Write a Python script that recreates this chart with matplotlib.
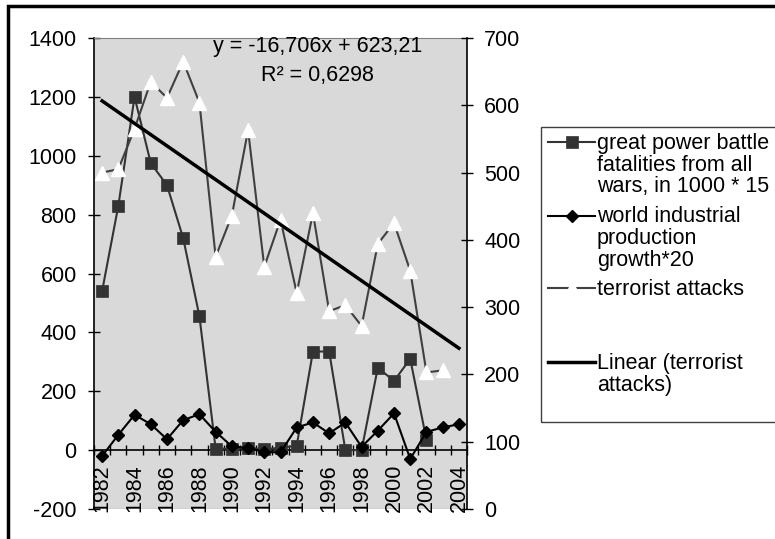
import matplotlib
matplotlib.use('Agg')
import matplotlib.pyplot as plt
import numpy as np
from matplotlib.lines import Line2D
from matplotlib.patches import Rectangle

plt.rcParams['font.family'] = ['Liberation Sans', 'DejaVu Sans']
plt.rcParams['font.size'] = 15.5
plt.rcParams['axes.unicode_minus'] = False

years = list(range(1982, 2005))
nan = np.nan

# great power battle fatalities from all wars, in 1000 * 15 (left axis)
fatalities = [540, 830, 1200, 975, 900, 720, 455, 5, 5, 8, 3, 8, 15,
              335, 335, 0, 0, 280, 235, 310, 35, nan, nan]
# world industrial production growth * 20 (left axis)
production = [-20, 52, 120, 88, 37, 102, 122, 62, 13, 7, -6, -8, 77,
              94, 57, 94, 11, 66, 125, -30, 62, 77, 88]
# terrorist attacks (right axis)
attacks = [500, 505, 565, 635, 611, 665, 604, 375, 436, 563, 360, 430, 321,
           440, 294, 303, 272, 394, 425, 354, 203, 206, nan]

trend_slope = -16.706
trend_icept = 623.21

legend_labels = ['great power battle\nfatalities from all\nwars, in 1000 * 15',
                 'world industrial\nproduction\ngrowth*20',
                 'terrorist attacks',
                 'Linear (terrorist\nattacks)']

W, H = 775, 539
def fx(px):
    return px / W
def fy(py):
    return 1 - py / H

x = np.arange(len(years))

fig = plt.figure(figsize=(W / 100, H / 100), dpi=100)
ax = fig.add_axes([fx(94), fy(509), (467 - 94) / W, (509 - 38) / H])
ax.set_facecolor('#d9d9d9')

sq_style = dict(color='#333333', lw=1.5, marker='s', ms=9, mfc='#333333',
                mec='#333333', mew=0.5)
di_style = dict(color='black', lw=1.5, marker='D', ms=6, mfc='black',
                mec='black')
tr_style = dict(color='#404040', lw=1.5, marker='^', ms=10, mfc='white',
                mec='white')
ln_style = dict(color='black', lw=2.5)

ax.plot(x, fatalities, zorder=3, **sq_style)
ax.plot(x, production, zorder=3, **di_style)

ax.set_xlim(-0.5, len(years) - 0.5)
ax.set_ylim(-200, 1400)
ax.set_yticks(range(-200, 1401, 200))
ax.tick_params(axis='y', direction='inout', length=9, width=1, pad=8)

ax.spines['bottom'].set_position(('data', 0))
ax.spines['bottom'].set_linewidth(1.2)
ax.spines['left'].set_linewidth(1.2)
ax.spines['top'].set_color('#808080')
ax.spines['right'].set_visible(False)
ax.axhline(-200, color='#b0b0b0', lw=1, zorder=1)

ax.set_xticks(x[::2])
ax.set_xticklabels([str(y) for y in years[::2]], rotation=90, va='top')
ax.set_xticks(np.arange(-0.5, len(years)), minor=True)
ax.tick_params(axis='x', which='major', length=0, pad=10)
ax.tick_params(axis='x', which='minor', direction='inout', length=7, width=1)

ax2 = ax.twinx()
ax2.plot(x, attacks, zorder=3, **tr_style)
trend_x = np.arange(1, len(years) + 1)
ax2.plot(x, trend_slope * trend_x + trend_icept, zorder=4, **ln_style)
ax2.set_ylim(0, 700)
ax2.set_yticks(range(0, 701, 100))
ax2.tick_params(axis='y', direction='inout', length=9, width=1, pad=8)
for s in ['top', 'bottom', 'left']:
    ax2.spines[s].set_visible(False)
ax2.spines['right'].set_linewidth(1.2)

ax.text(0.60, 0.983, 'y = -16,706x + 623,21', transform=ax.transAxes,
        ha='center', va='center')
ax.text(0.60, 0.921, 'R² = 0,6298', transform=ax.transAxes,
        ha='center', va='center')

# legend, laid out like the Excel one (handle next to first text line)
fig.patches.append(Rectangle((fx(541), fy(422)), 0.5, (422 - 127) / H,
                             transform=fig.transFigure, fill=False,
                             edgecolor='#404040', lw=1))
styles = [sq_style, di_style, tr_style, ln_style]
first_base = [149, 222.5, 295, 369]
step = 21.7
for lab, st, b in zip(legend_labels, styles, first_base):
    hy = fy(b - 7)
    lst = {k: v for k, v in st.items() if k in ('color', 'lw')}
    fig.add_artist(Line2D([fx(548), fx(595)], [hy, hy], transform=fig.transFigure, **lst))
    if 'marker' in st:
        mst = {k: v for k, v in st.items() if k not in ('color', 'lw')}
        fig.add_artist(Line2D([fx(571.5)], [hy], transform=fig.transFigure,
                              ls='none', **mst))
    for i, line in enumerate(lab.split('\n')):
        fig.text(fx(597), fy(b + i * step), line, ha='left', va='baseline')

fig.patches.append(Rectangle((fx(8), -0.1), 1.2, 1 - 6 / H + 0.1,
                             transform=fig.transFigure, fill=False,
                             edgecolor='black', lw=2.5))

plt.savefig('out.png', dpi=100)
